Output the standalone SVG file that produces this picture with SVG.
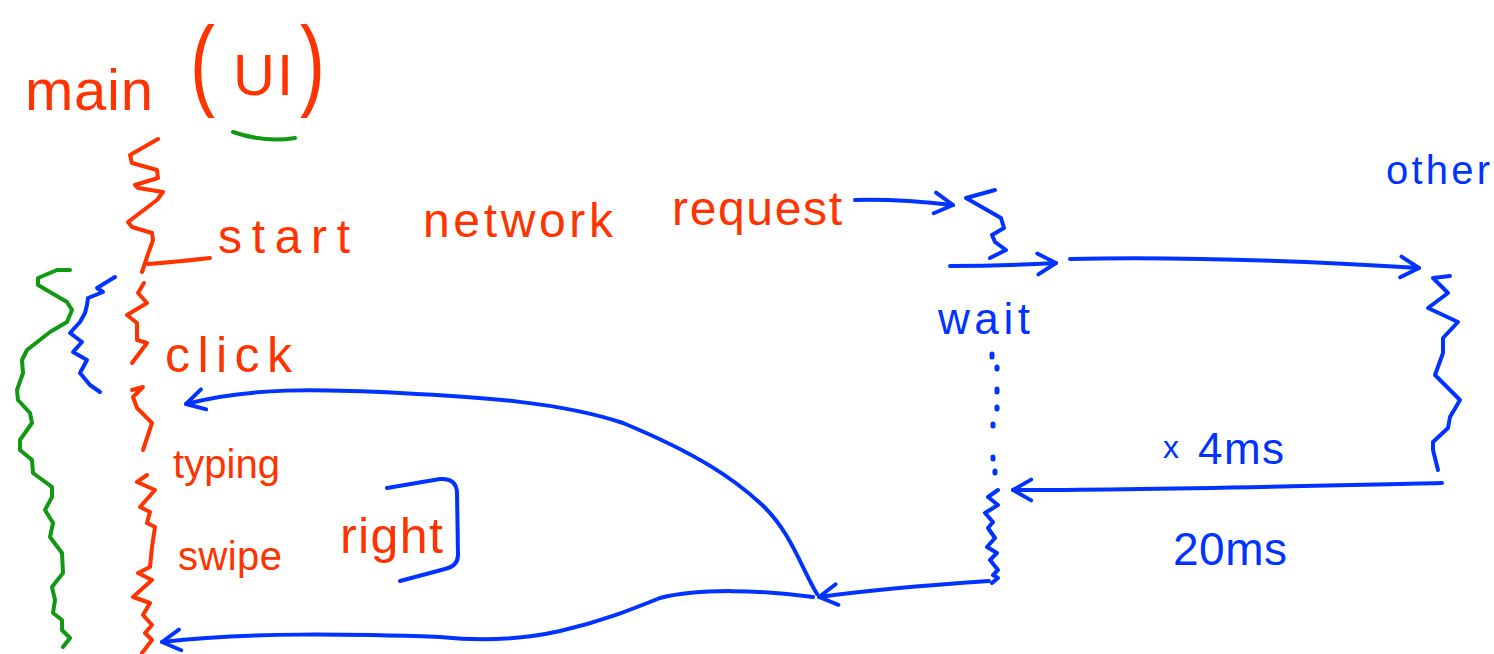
<svg xmlns="http://www.w3.org/2000/svg" width="1494" height="654" viewBox="0 0 1494 654">
<style>
  .r { fill: #ff3300; font-family: "Liberation Sans", Arial, sans-serif; }
  .b { fill: #0033ff; font-family: "Liberation Sans", Arial, sans-serif; }
  .sr { fill: none; stroke: #ff3300; stroke-width: 4; stroke-linecap: round; stroke-linejoin: round; }
  .sb { fill: none; stroke: #0033ff; stroke-width: 4; stroke-linecap: round; stroke-linejoin: round; }
  .sg { fill: none; stroke: #119911; stroke-width: 4; stroke-linecap: round; stroke-linejoin: round; }
  .dot { fill: none; stroke: #0033ff; stroke-width: 5; stroke-linecap: round; }
</style>
<defs>
  <marker id="ah" viewBox="0 0 20 20" refX="17" refY="10" markerWidth="26" markerHeight="26" markerUnits="userSpaceOnUse" orient="auto">
    <path d="M3,2 L17,10 L3,18" fill="none" stroke="#0033ff" stroke-width="3" stroke-linecap="round" stroke-linejoin="round"/>
  </marker>
</defs>
<rect width="1494" height="654" fill="#ffffff"/>

<g id="main-label">
  <text class="r" x="25" y="110" font-size="58" textLength="128" lengthAdjust="spacing">main</text>
  <text class="r" transform="translate(190,97) scale(0.75,1)" x="0" y="0" font-size="100">(</text>
  <text class="r" x="233" y="95" font-size="58" textLength="60" lengthAdjust="spacing">UI</text>
  <text class="r" transform="translate(300,97) scale(0.75,1)" x="0" y="0" font-size="100">)</text>
  <path class="sg" d="M233,132 Q265,143 295,138"/>
</g>

<g id="main-thread">
  <path class="sr" d="M158,139 L130,155 L132,163 L157,170 L158,178 L135,185 L138,188 L163,192 L157,200 L128,222 L132,227 L152,233 L153,240 L147,257 L142,272"/>
  <path class="sr" d="M148,264 Q175,262 210,258"/>
  <path class="sr" d="M144,283 L138,293 L147,303 L127,315 L137,323 L137,340 L147,343 L132,363"/>
  <path class="sr" d="M132,390 L143,387 L133,397 L137,408 L152,423 L143,450"/>
  <path class="sr" d="M147,475 L137,482 L155,490 L140,507 L150,512 L147,523 L155,527 L152,547 L150,567 L138,573 L152,580 L133,597 L150,603 L143,615 L152,625 L145,633 L152,640 L142,653"/>
</g>

<g id="network-request">
  <text class="r" x="218" y="253" font-size="48" textLength="132" lengthAdjust="spacing">start</text>
  <text class="r" x="423" y="237" font-size="48" textLength="190" lengthAdjust="spacing">network</text>
  <text class="r" x="672" y="225" font-size="48" textLength="170" lengthAdjust="spacing">request</text>
</g>

<g id="event-click">
  <text class="r" x="165" y="372" font-size="50" textLength="127" lengthAdjust="spacing">click</text>
</g>
<g id="event-typing">
  <text class="r" x="173" y="478" font-size="40" textLength="107" lengthAdjust="spacing">typing</text>
</g>
<g id="event-swipe">
  <text class="r" x="178" y="570" font-size="40" textLength="104" lengthAdjust="spacing">swipe</text>
  <text class="r" x="340" y="553" font-size="50" textLength="103" lengthAdjust="spacing">right</text>
  <path class="sb" d="M387,488 L440,479 Q456,478 457,492 L458,555 Q458,566 445,569 L400,581"/>
</g>

<g id="left-braces">
  <path class="sg" d="M70,270 L57,270 L38,278 L38,285 L67,302 L72,310 L67,322 L50,332 L27,350 L22,360 L23,373 L17,390 L18,400 L30,413 L32,423 L20,440 L20,450 L32,460 L33,473 L52,487 L52,497 L45,510 L53,523 L50,537 L62,553 L63,573 L52,587 L55,600 L53,613 L62,620 L62,630 L70,638 L63,647"/>
  <path class="sb" d="M115,277 L97,288 L103,292 L88,298 L87,305 L85,313 L80,322 L70,333 L82,342 L73,352 L87,360 L80,373 L90,385 L100,392"/>
</g>

<g id="other-thread">
  <text class="b" x="1386" y="184" font-size="40" textLength="104" lengthAdjust="spacing">other</text>
  <path class="sb" d="M995,190 L966,198 L1001,218 L1004,228 L992,235 L995,242 L1006,250 L990,258"/>
  <path class="sb" d="M1450,276 L1433,278 L1448,293 L1428,308 L1458,322 L1443,338 L1443,353 L1435,375 L1460,400 L1450,417 L1448,428 L1433,442 L1433,450 L1438,470"/>
</g>

<g id="wait">
  <text class="b" x="938" y="334" font-size="44" textLength="92" lengthAdjust="spacing">wait</text>
  <path class="dot" d="M992,354 L992,357 M997,367 L997,369 M997,389 L997,392 M997,407 L997,409 M993,424 L993,426 M993,457 L993,459 M995,471 L995,473"/>
  <path class="sb" d="M998,490 L988,497 L998,505 L985,513 L993,522 L988,528 L995,538 L987,547 L997,553 L990,560 L998,570 L993,575 L998,578 L992,583"/>
</g>

<g id="timing">
  <text class="b" x="1163" y="458" font-size="32">x</text>
  <text class="b" x="1198" y="464" font-size="44" textLength="86" lengthAdjust="spacing">4ms</text>
  <text class="b" x="1173" y="565" font-size="46" textLength="114" lengthAdjust="spacing">20ms</text>
</g>

<g id="connectors">
  <path class="sb" d="M855,200 Q900,199 953,205" marker-end="url(#ah)"/>
  <path class="sb" d="M950,266 Q1000,266 1056,263" marker-end="url(#ah)"/>
  <path class="sb" d="M1070,259 C1200,256 1320,262 1419,268" marker-end="url(#ah)"/>
  <path class="sb" d="M1442,483 C1300,486 1150,490 1013,490" marker-end="url(#ah)"/>
  <path class="sb" d="M989,581 C930,585 870,590 819,597" marker-end="url(#ah)"/>
  <path class="sb" d="M817,594 C800,565 790,530 760,503 C735,480 700,455 623,423 C560,402 480,397 400,393 C320,389 250,387 186,404" marker-end="url(#ah)"/>
  <path class="sb" d="M813,597 C760,590 700,588 660,598 C630,610 600,622 560,631 C520,640 480,641 440,637 C350,634 250,632 162,642" marker-end="url(#ah)"/>
</g>
</svg>
